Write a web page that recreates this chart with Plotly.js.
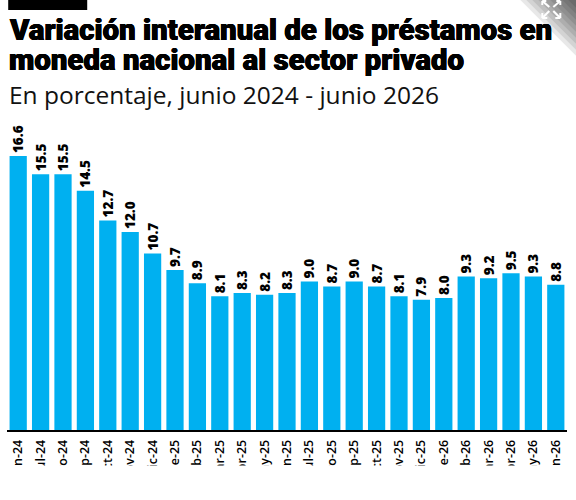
<!DOCTYPE html>
<html><head><meta charset="utf-8">
<script src="https://cdn.plot.ly/plotly-3.0.1.min.js"></script>
<style>html,body{margin:0;padding:0;background:#fff}</style></head>
<body><div id="c" style="width:576px;height:500px"></div>
<script>
const categories=["jun-24","jul-24","ago-24","sep-24","oct-24","nov-24","dic-24","ene-25","feb-25","mar-25","abr-25","may-25","jun-25","jul-25","ago-25","sep-25","oct-25","nov-25","dic-25","ene-26","feb-26","mar-26","abr-26","may-26","jun-26"];
const values=[16.6,15.5,15.5,14.5,12.7,12.0,10.7,9.7,8.9,8.1,8.3,8.2,8.3,9.0,8.7,9.0,8.7,8.1,7.9,8.0,9.3,9.2,9.5,9.3,8.8];
const labels=values.map(v=>v.toFixed(1));
const W=576,H=500,L=6.8,PW=559.9,B=430;
const px=(x)=>(x-L)/PW, py=(y)=>(B-y)/B;
const shapes=[
 {type:'rect',x0:px(8),x1:px(87),y0:py(0),y1:py(10),fillcolor:'#000',line:{width:0}},
 {type:'rect',x0:px(0),x1:px(576),y0:py(465.5),y1:py(500),fillcolor:'#fff',line:{width:0},layer:'above'}
];
const cornerSteps=[0,6,12,18,24,30,36,42,48];
cornerSteps.forEach(d=>{
  const a=56-d;
  shapes.push({type:'path',path:`M ${px(576-a)} ${py(0)} L ${px(576)} ${py(0)} L ${px(576)} ${py(a)} Z`,fillcolor:'#000',opacity:0.09,line:{width:0}});
});
const arrows=[[542,1,549,7],[542,1,542,5],[542,1,546,1],
 [560,1,553,7],[560,1,560,5],[560,1,556,1],
 [542,18,549,11],[542,18,542,13],[542,18,547,18],
 [560,18,553,11],[560,18,560,13],[560,18,555,18]];
arrows.forEach(a=>shapes.push({type:'line',x0:px(a[0]),y0:py(a[1]),x1:px(a[2]),y1:py(a[3]),line:{color:'#fff',width:2}}));
shapes.forEach(s=>{s.xref='paper';s.yref='paper';});
const heavy='0.4px 0 0 #000, -0.4px 0 0 #000, 0 0.3px 0 #000';
const annotations=[
 {text:'Variación interanual de los préstamos en',x:px(8),y:py(30),font:{size:29.4,family:'Roboto',weight:900,color:'#000',shadow:heavy}},
 {text:'moneda nacional al sector privado',x:px(8),y:py(60),font:{size:29.4,family:'Roboto',weight:900,color:'#000',shadow:heavy}},
 {text:'En porcentaje, junio 2024 - junio 2026',x:px(8),y:py(95),font:{size:24.5,family:'Open Sans',color:'#111'}}
].map(a=>Object.assign(a,{xref:'paper',yref:'paper',xanchor:'left',yanchor:'middle',showarrow:false,borderpad:0}));
Plotly.newPlot('c',[{type:'bar',x:categories,y:values,text:labels,textposition:'outside',textangle:-90,cliponaxis:false,constraintext:'none',
 textfont:{family:'Open Sans',size:13.5,weight:800,color:'#000'},marker:{color:'#00b0f0',line:{width:0}},width:0.77,hoverinfo:'skip'}],
 {width:W,height:H,margin:{l:L,r:W-L-PW,t:0,b:H-B,pad:0},paper_bgcolor:'#fff',plot_bgcolor:'#fff',showlegend:false,
  xaxis:{type:'category',tickangle:-90,ticks:'',showline:true,linecolor:'#000',linewidth:2,showgrid:false,zeroline:false,
   tickfont:{family:'Open Sans',size:12.4,weight:600,color:'#000'},range:[-0.5,24.5],ticklabelstandoff:3},
  yaxis:{visible:false,range:[0,26.06],showgrid:false,zeroline:false},
  shapes,annotations},{staticPlot:true,displayModeBar:false});
</script></body></html>
